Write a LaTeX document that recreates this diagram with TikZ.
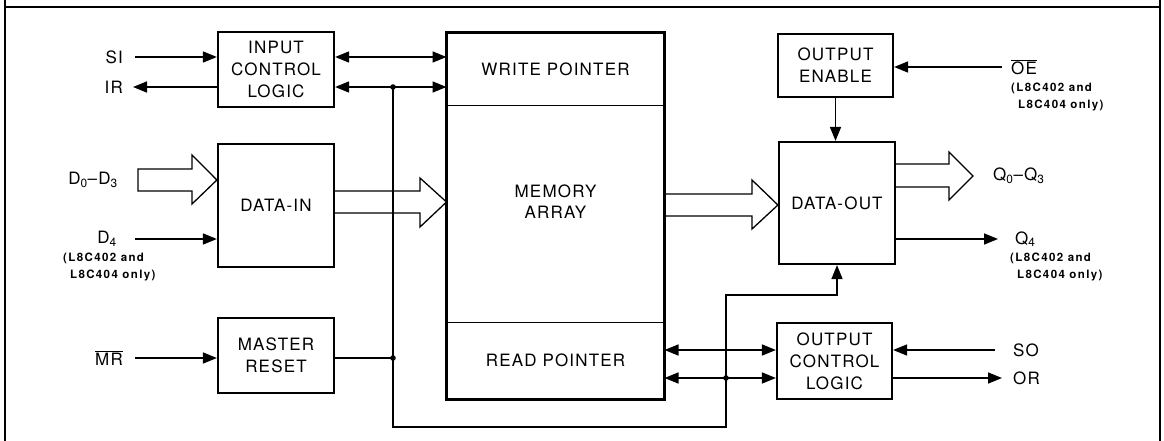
\documentclass[tikz,border=0pt]{standalone}
\usepackage{fontspec}
\setmainfont{TeX Gyre Heros}[LetterSpace=7]
\newfontfamily\notefont{TeX Gyre Heros}[LetterSpace=12]
\usetikzlibrary{arrows.meta}
\newcommand{\ovl}[1]{$\overline{\mbox{#1}}$}

\begin{document}
\begin{tikzpicture}[x=1pt,y=-1pt,
    blk/.style={draw,line width=2.2pt,align=center,inner sep=0pt,
      font=\fontsize{17}{22}\selectfont},
    cell/.style={draw,line width=1pt,minimum width=217pt,align=center,
      font=\fontsize{17}{21}\selectfont},
    lbl/.style={inner sep=0pt,font=\fontsize{17}{20}\selectfont},
    note/.style={anchor=north west,inner sep=0pt,align=left,
      font=\notefont\bfseries\fontsize{11.5}{17}\selectfont},
    sig/.style={-{Triangle[length=14pt,width=11pt]},line width=1.6pt},
    dsig/.style={{Triangle[length=14pt,width=11pt]}-{Triangle[length=14pt,width=11pt]},line width=1.6pt},
    wire/.style={line width=1.6pt},
    bus/.style={line width=1.3pt,line join=miter}]
  \useasboundingbox (0,0) rectangle (1164,441);
  % frame
  \draw[line width=1.6pt] (5,441) -- (5,0) (1160,0) -- (1160,441) (5,7) -- (1160,7);

  % blocks
  \node[blk,minimum width=116pt,minimum height=75pt] (icl) at (276,69.5) {INPUT\\CONTROL\\LOGIC};
  \node[blk,minimum width=116pt,minimum height=123pt] (din) at (276,205.5) {DATA-IN};
  \node[blk,minimum width=116pt,minimum height=75pt] (mrst) at (276,355.5) {MASTER\\RESET};
  \node[cell,minimum height=73pt] (wp) at (555.5,69.5) {WRITE POINTER};
  \node[cell,minimum height=216pt] (ma) at (555.5,214) {};
  \node[lbl,align=center,font=\fontsize{17}{21}\selectfont] (matext) at (555.5,202) {MEMORY\\ARRAY};
  \node[cell,minimum height=77pt] (rp) at (555.5,360.5) {READ POINTER};
  \draw[line width=2.2pt] (wp.north west) rectangle (rp.south east);
  \node[blk,minimum width=115pt,minimum height=63pt] (oen) at (835.5,65.5) {OUTPUT\\ENABLE};
  \node[blk,minimum width=116pt,minimum height=122pt] (dout) at (837,203) {DATA-OUT};
  \node[blk,minimum width=115pt,minimum height=76pt] (ocl) at (834.5,361) {OUTPUT\\CONTROL\\LOGIC};

  % pin labels
  \node[lbl,anchor=east] (si) at (123,57) {SI};
  \node[lbl,anchor=east] (ir) at (123,87) {IR};
  \node[lbl] (dlo) at (93,180) {D\textsubscript{0}--D\textsubscript{3}};
  \node[lbl,anchor=east] (dfour) at (117,239) {D\textsubscript{4}};
  \node[note] (dnote) at (63,253) {(L8C402 and\\\hspace*{0.6em}L8C404 only)};
  \node[lbl,anchor=east] (mr) at (123,358) {\ovl{MR}};
  \node[lbl,anchor=west] (oe) at (1011,67) {\ovl{OE}};
  \node[note] (oenote) at (1011,83) {(L8C402 and\\\hspace*{0.6em}L8C404 only)};
  \node[lbl,anchor=west] (qlo) at (993,176) {Q\textsubscript{0}--Q\textsubscript{3}};
  \node[lbl,anchor=west] (qfour) at (1015,239) {Q\textsubscript{4}};
  \node[note] (qnote) at (1010,253) {(L8C402 and\\\hspace*{0.6em}L8C404 only)};
  \node[lbl,anchor=west] (so) at (1013,350) {SO};
  \node[lbl,anchor=west] (or) at (1013,378) {OR};

  \coordinate (j1) at (393,87);
  \coordinate (j2) at (393,358);
  \coordinate (j3) at (726,378);

  % data buses
  \draw[bus] (138,169) -- (192,169) -- (192,155) -- (din.west |- dlo) -- (192,204) -- (192,191) -- (138,191) -- cycle;
  \draw[bus] (din.east |- 0,191) -- (420,191) -- (420,178) -- (ma.west |- 0,202) -- (420,227) -- (420,213) -- (din.east |- 0,213);
  \draw[bus] (ma.east |- 0,194) -- (752,194) -- (752,180) -- (dout.west |- 0,205) -- (752,229) -- (752,216) -- (ma.east |- 0,216);
  \draw[bus] (dout.east |- 0,164) -- (949,164) -- (949,152) -- (973,176) -- (949,200) -- (949,187) -- (dout.east |- 0,187);

  % control lines
  \draw[sig,shorten <=12pt] (si.east) -- (si.east -| icl.west);
  \draw[sig,shorten >=10pt] (icl.west |- ir.east) -- (ir.east);
  \draw[sig,shorten <=18pt] (dfour.east) -- (dfour.east -| din.west);
  \draw[sig,shorten <=12pt] (mr.east) -- (mr.east -| mrst.west);
  \draw[dsig] (icl.east |- si) -- (wp.west |- si);
  \draw[dsig] (icl.east |- ir) -- (wp.west |- ir);
  \draw[wire] (mrst.east |- j2) -- (j2);
  \draw[sig] (j1) -- (j1 |- 0,427) -| (j3) -- (j3 |- 0,295) -| (dout.south);
  \draw[dsig] (rp.east |- so) -- (ocl.west |- so);
  \draw[dsig] (rp.east |- or) -- (ocl.west |- or);
  \draw[sig,shorten <=9pt] (oe.west) -- (oe.west -| oen.east);
  \draw[sig] (oen.south) -- (oen.south |- dout.north);
  \draw[sig,shorten >=17pt] (dout.east |- qfour) -- (qfour.west);
  \draw[sig,shorten <=18pt] (so.west) -- (so.west -| ocl.east);
  \draw[sig,shorten >=11pt] (ocl.east |- or) -- (or.west);

  \fill (j1) circle (2.8pt) (j2) circle (2.8pt) (j3) circle (2.8pt);
\end{tikzpicture}
\end{document}
